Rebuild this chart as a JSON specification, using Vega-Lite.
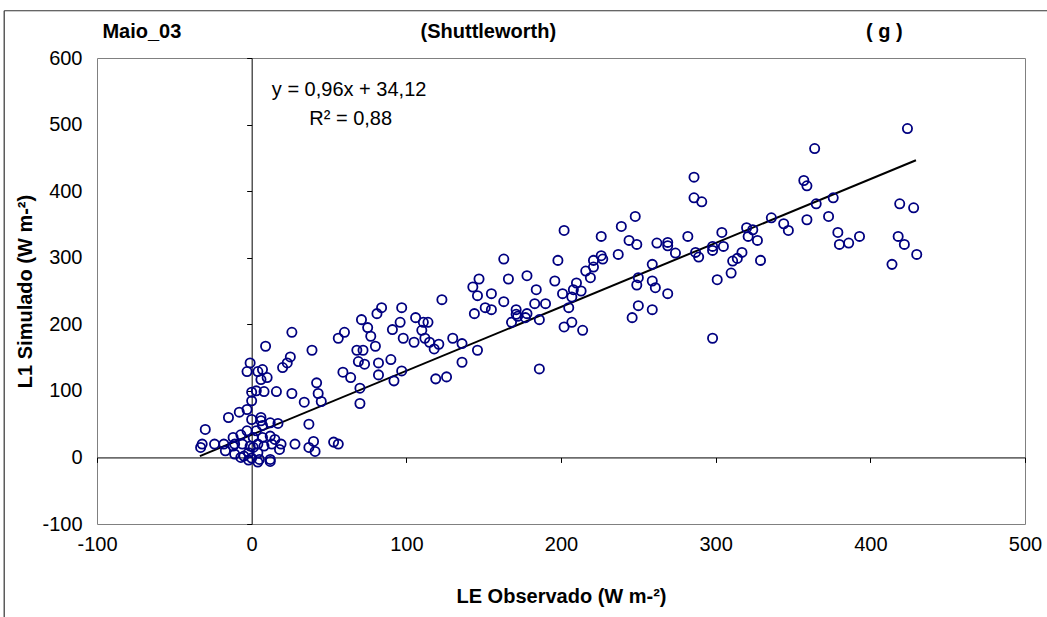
{
  "$schema": "https://vega.github.io/schema/vega-lite/v6.json",
  "width": 928,
  "height": 466,
  "autosize": "none",
  "padding": {"left": 97, "top": 58, "right": 22, "bottom": 93},
  "background": "white",
  "config": {
    "view": {"stroke": "#808080", "strokeWidth": 1},
    "font": "Liberation Sans",
    "axis": {"labelFont": "Liberation Sans", "titleFont": "Liberation Sans", "labelColor": "black", "titleColor": "black"}
  },
  "datasets": {
    "points": [
      {"obs": -30, "sim": 42}, {"obs": -33, "sim": 15}, {"obs": -32, "sim": 20}, {"obs": -24, "sim": 20},
      {"obs": -18, "sim": 20}, {"obs": -17, "sim": 10}, {"obs": -12, "sim": 30}, {"obs": -12, "sim": 17},
      {"obs": -11, "sim": 5}, {"obs": -7, "sim": 34}, {"obs": -15, "sim": 60}, {"obs": -8, "sim": 68},
      {"obs": -3, "sim": 72}, {"obs": 0, "sim": 85}, {"obs": 0, "sim": 57}, {"obs": 6, "sim": 60},
      {"obs": 7, "sim": 48}, {"obs": 12, "sim": 52}, {"obs": 17, "sim": 51}, {"obs": -3, "sim": 40},
      {"obs": 3, "sim": 40}, {"obs": -11, "sim": 20}, {"obs": -6, "sim": 20}, {"obs": -1, "sim": 17},
      {"obs": 4, "sim": 20}, {"obs": 8, "sim": 17}, {"obs": 13, "sim": 20}, {"obs": 19, "sim": 20},
      {"obs": 12, "sim": 32}, {"obs": 15, "sim": 27}, {"obs": -5, "sim": 2}, {"obs": 0, "sim": -1},
      {"obs": 5, "sim": -3}, {"obs": 12, "sim": -3}, {"obs": 4, "sim": 7}, {"obs": 18, "sim": 12},
      {"obs": -2, "sim": 7}, {"obs": 1, "sim": 15}, {"obs": 7, "sim": 30}, {"obs": 1, "sim": 30},
      {"obs": 28, "sim": 20}, {"obs": 37, "sim": 50}, {"obs": 37, "sim": 15}, {"obs": 40, "sim": 24},
      {"obs": 41, "sim": 9}, {"obs": -7, "sim": 0}, {"obs": -2, "sim": -4}, {"obs": 4, "sim": -7},
      {"obs": 12, "sim": -6}, {"obs": 53, "sim": 23}, {"obs": 56, "sim": 20}, {"obs": 6, "sim": 55},
      {"obs": -3, "sim": 129}, {"obs": -1, "sim": 142}, {"obs": 4, "sim": 129}, {"obs": 7, "sim": 132},
      {"obs": 6, "sim": 117}, {"obs": 10, "sim": 120}, {"obs": 9, "sim": 167}, {"obs": 0, "sim": 98},
      {"obs": 3, "sim": 100}, {"obs": 8, "sim": 99}, {"obs": 16, "sim": 99}, {"obs": 26, "sim": 96},
      {"obs": 20, "sim": 135}, {"obs": 23, "sim": 142}, {"obs": 25, "sim": 151}, {"obs": 26, "sim": 188},
      {"obs": 34, "sim": 83}, {"obs": 42, "sim": 112}, {"obs": 43, "sim": 96}, {"obs": 45, "sim": 84},
      {"obs": 39, "sim": 161}, {"obs": 56, "sim": 179}, {"obs": 60, "sim": 188}, {"obs": 59, "sim": 128},
      {"obs": 64, "sim": 120}, {"obs": 68, "sim": 161}, {"obs": 72, "sim": 161}, {"obs": 69, "sim": 144},
      {"obs": 73, "sim": 140}, {"obs": 70, "sim": 104}, {"obs": 70, "sim": 81}, {"obs": 71, "sim": 207},
      {"obs": 75, "sim": 195}, {"obs": 77, "sim": 182}, {"obs": 80, "sim": 167}, {"obs": 81, "sim": 216},
      {"obs": 82, "sim": 142}, {"obs": 82, "sim": 124}, {"obs": 84, "sim": 225}, {"obs": 90, "sim": 147},
      {"obs": 92, "sim": 115}, {"obs": 91, "sim": 192}, {"obs": 96, "sim": 203}, {"obs": 97, "sim": 225},
      {"obs": 98, "sim": 179}, {"obs": 97, "sim": 130}, {"obs": 105, "sim": 173}, {"obs": 106, "sim": 210},
      {"obs": 111, "sim": 203}, {"obs": 114, "sim": 203}, {"obs": 110, "sim": 191}, {"obs": 112, "sim": 179},
      {"obs": 115, "sim": 173}, {"obs": 118, "sim": 163}, {"obs": 121, "sim": 170}, {"obs": 123, "sim": 237},
      {"obs": 119, "sim": 118}, {"obs": 126, "sim": 121}, {"obs": 130, "sim": 179}, {"obs": 136, "sim": 171},
      {"obs": 136, "sim": 143}, {"obs": 146, "sim": 161}, {"obs": 144, "sim": 216}, {"obs": 143, "sim": 256},
      {"obs": 146, "sim": 243}, {"obs": 147, "sim": 268}, {"obs": 151, "sim": 225}, {"obs": 155, "sim": 222},
      {"obs": 155, "sim": 246}, {"obs": 163, "sim": 298}, {"obs": 163, "sim": 234}, {"obs": 166, "sim": 268},
      {"obs": 168, "sim": 203}, {"obs": 171, "sim": 222}, {"obs": 171, "sim": 215}, {"obs": 172, "sim": 212},
      {"obs": 177, "sim": 210}, {"obs": 178, "sim": 216}, {"obs": 178, "sim": 273}, {"obs": 184, "sim": 252},
      {"obs": 183, "sim": 231}, {"obs": 186, "sim": 207}, {"obs": 186, "sim": 133}, {"obs": 190, "sim": 231},
      {"obs": 196, "sim": 265}, {"obs": 198, "sim": 296}, {"obs": 201, "sim": 246}, {"obs": 202, "sim": 341},
      {"obs": 202, "sim": 196}, {"obs": 207, "sim": 203}, {"obs": 205, "sim": 225}, {"obs": 208, "sim": 252},
      {"obs": 210, "sim": 262}, {"obs": 207, "sim": 241}, {"obs": 213, "sim": 250}, {"obs": 214, "sim": 191},
      {"obs": 216, "sim": 280}, {"obs": 219, "sim": 270}, {"obs": 221, "sim": 286}, {"obs": 221, "sim": 296},
      {"obs": 226, "sim": 303}, {"obs": 227, "sim": 298}, {"obs": 226, "sim": 332}, {"obs": 237, "sim": 305},
      {"obs": 239, "sim": 347}, {"obs": 248, "sim": 362}, {"obs": 244, "sim": 326}, {"obs": 249, "sim": 320},
      {"obs": 259, "sim": 290}, {"obs": 250, "sim": 270}, {"obs": 249, "sim": 259}, {"obs": 259, "sim": 265},
      {"obs": 261, "sim": 255}, {"obs": 250, "sim": 228}, {"obs": 246, "sim": 210}, {"obs": 259, "sim": 222},
      {"obs": 269, "sim": 246}, {"obs": 262, "sim": 322}, {"obs": 269, "sim": 323}, {"obs": 269, "sim": 318},
      {"obs": 274, "sim": 307}, {"obs": 282, "sim": 332}, {"obs": 286, "sim": 421}, {"obs": 286, "sim": 390},
      {"obs": 291, "sim": 384}, {"obs": 287, "sim": 308}, {"obs": 289, "sim": 301}, {"obs": 298, "sim": 317},
      {"obs": 298, "sim": 311}, {"obs": 304, "sim": 338}, {"obs": 305, "sim": 317}, {"obs": 301, "sim": 267},
      {"obs": 298, "sim": 179}, {"obs": 310, "sim": 277}, {"obs": 311, "sim": 295}, {"obs": 314, "sim": 299},
      {"obs": 317, "sim": 308}, {"obs": 320, "sim": 345}, {"obs": 324, "sim": 342}, {"obs": 321, "sim": 332},
      {"obs": 327, "sim": 326}, {"obs": 329, "sim": 296}, {"obs": 336, "sim": 360}, {"obs": 344, "sim": 351},
      {"obs": 347, "sim": 341}, {"obs": 359, "sim": 357}, {"obs": 357, "sim": 416}, {"obs": 359, "sim": 408},
      {"obs": 365, "sim": 381}, {"obs": 364, "sim": 464}, {"obs": 373, "sim": 362}, {"obs": 376, "sim": 390},
      {"obs": 379, "sim": 338}, {"obs": 380, "sim": 320}, {"obs": 386, "sim": 322}, {"obs": 393, "sim": 332},
      {"obs": 424, "sim": 494}, {"obs": 419, "sim": 381}, {"obs": 428, "sim": 375}, {"obs": 418, "sim": 332},
      {"obs": 422, "sim": 320}, {"obs": 430, "sim": 305}, {"obs": 414, "sim": 290}
    ],
    "trend": [
      {"obs": -33.5, "sim": 1.96},
      {"obs": 429.5, "sim": 446.44}
    ],
    "headings": [
      {"obs": -71, "sim": 639.5, "label": "Maio_03"},
      {"obs": 153, "sim": 639.5, "label": "(Shuttleworth)"},
      {"obs": 409, "sim": 639.5, "label": "( g )"}
    ],
    "equation": [
      {"obs": 63, "sim": 552, "label": "y = 0,96x + 34,12"},
      {"obs": 64, "sim": 508, "label": "R² = 0,88"}
    ],
    "border": [
      {"obs": -160, "sim": 671, "obs2": 530, "sim2": 671},
      {"obs": -160, "sim": 671, "obs2": -160, "sim2": -260}
    ]
  },
  "layer": [
    {
      "data": {"name": "border"},
      "mark": {"type": "rule", "color": "#333333", "strokeWidth": 1.2, "clip": false},
      "encoding": {
        "x": {"field": "obs", "type": "quantitative", "scale": {"domain": [-100, 500], "nice": false, "zero": false}, "axis": null},
        "y": {"field": "sim", "type": "quantitative", "scale": {"domain": [-100, 600], "nice": false, "zero": false}, "axis": null},
        "x2": {"field": "obs2"},
        "y2": {"field": "sim2"}
      }
    },
    {
      "data": {"name": "trend"},
      "mark": {"type": "line", "color": "black", "strokeWidth": 2},
      "encoding": {
        "x": {
          "field": "obs", "type": "quantitative",
          "scale": {"domain": [-100, 500], "nice": false, "zero": false},
          "axis": {
            "orient": "bottom", "offset": -66.571, "values": [-100, 0, 100, 200, 300, 400, 500],
            "labels": false, "ticks": true, "tickSize": 5, "tickColor": "black", "tickWidth": 1,
            "domain": true, "domainColor": "black", "domainWidth": 1, "grid": false, "title": null
          }
        },
        "y": {
          "field": "sim", "type": "quantitative",
          "scale": {"domain": [-100, 600], "nice": false, "zero": false},
          "axis": {
            "orient": "left", "offset": -154.667, "values": [-100, 0, 100, 200, 300, 400, 500, 600],
            "labels": false, "ticks": true, "tickSize": 5, "tickColor": "black", "tickWidth": 1,
            "domain": true, "domainColor": "black", "domainWidth": 1, "grid": false, "title": null
          }
        }
      }
    },
    {
      "data": {"name": "points"},
      "mark": {"type": "point", "shape": "circle", "filled": false, "color": "#000080", "strokeWidth": 1.8, "size": 85, "opacity": 1},
      "encoding": {
        "x": {
          "field": "obs", "type": "quantitative",
          "scale": {"domain": [-100, 500], "nice": false, "zero": false},
          "axis": {
            "orient": "bottom", "values": [-100, 0, 100, 200, 300, 400, 500],
            "ticks": false, "tickSize": 0, "domain": false, "grid": false,
            "labelExpr": "'' + datum.value",
            "labelFontSize": 20, "labelPadding": 10, "labelFlush": false, "labelOverlap": false, "labelBound": false,
            "title": "LE Observado (W m-²)", "titleFontSize": 20, "titleFontWeight": "bold",
            "titleY": 72, "titleBaseline": "middle"
          }
        },
        "y": {
          "field": "sim", "type": "quantitative",
          "scale": {"domain": [-100, 600], "nice": false, "zero": false},
          "axis": {
            "orient": "left", "values": [-100, 0, 100, 200, 300, 400, 500, 600],
            "ticks": false, "tickSize": 0, "domain": false, "grid": false,
            "labelExpr": "'' + datum.value",
            "labelFontSize": 20, "labelPadding": 15, "labelFlush": false, "labelOverlap": false, "labelBound": false,
            "title": "L1 Simulado (W m-²)", "titleFontSize": 20, "titleFontWeight": "bold",
            "titleX": -72, "titleBaseline": "middle"
          }
        }
      }
    },
    {
      "data": {"name": "headings"},
      "mark": {"type": "text", "fontSize": 20, "fontWeight": "bold", "align": "center", "baseline": "middle", "color": "black", "clip": false},
      "encoding": {
        "x": {"field": "obs", "type": "quantitative", "scale": {"domain": [-100, 500], "nice": false, "zero": false}, "axis": null},
        "y": {"field": "sim", "type": "quantitative", "scale": {"domain": [-100, 600], "nice": false, "zero": false}, "axis": null},
        "text": {"field": "label"}
      }
    },
    {
      "data": {"name": "equation"},
      "mark": {"type": "text", "fontSize": 20, "align": "center", "baseline": "middle", "color": "black"},
      "encoding": {
        "x": {"field": "obs", "type": "quantitative", "scale": {"domain": [-100, 500], "nice": false, "zero": false}, "axis": null},
        "y": {"field": "sim", "type": "quantitative", "scale": {"domain": [-100, 600], "nice": false, "zero": false}, "axis": null},
        "text": {"field": "label"}
      }
    }
  ],
  "resolve": {"axis": {"x": "independent", "y": "independent"}}
}
